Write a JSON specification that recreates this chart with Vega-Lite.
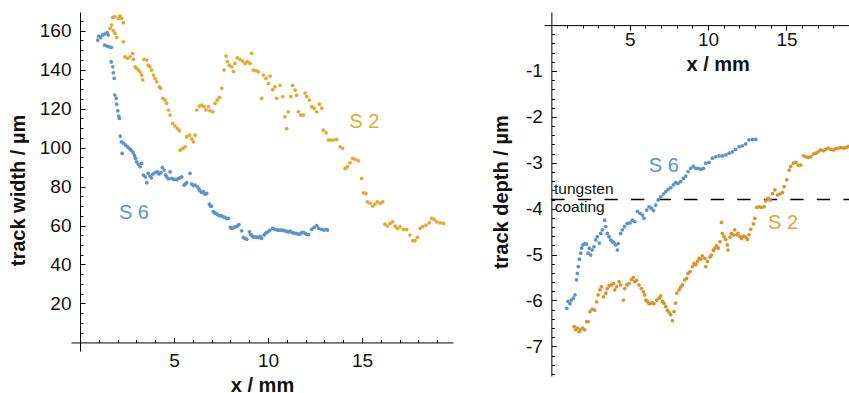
{
  "$schema": "https://vega.github.io/schema/vega-lite/v6.json",
  "padding": {"left": 8, "top": 12, "right": 0, "bottom": 0},
  "background": "white",
  "datasets": {
    "width": [
      {"s":"S 6","x":0.94,"y":155.2},{"s":"S 6","x":1.0,"y":157.2},{"s":"S 6","x":1.1,"y":156.5},{"s":"S 6","x":1.2,"y":157.8},{"s":"S 6","x":1.31,"y":158.3},{"s":"S 6","x":1.44,"y":159.0},{"s":"S 6","x":1.5,"y":157.8},{"s":"S 6","x":1.31,"y":152.6},{"s":"S 6","x":1.44,"y":152.1},{"s":"S 6","x":1.56,"y":151.7},{"s":"S 6","x":1.66,"y":151.4},{"s":"S 6","x":1.66,"y":144.0},{"s":"S 6","x":1.74,"y":141.5},{"s":"S 6","x":1.77,"y":138.4},{"s":"S 6","x":1.82,"y":135.5},{"s":"S 6","x":1.85,"y":127.0},{"s":"S 6","x":1.93,"y":125.3},{"s":"S 6","x":1.95,"y":122.3},{"s":"S 6","x":2.01,"y":118.9},{"s":"S 6","x":2.06,"y":116.2},{"s":"S 6","x":2.09,"y":115.0},{"s":"S 6","x":2.14,"y":105.9},{"s":"S 6","x":2.2,"y":103.0},{"s":"S 6","x":2.24,"y":97.0},{"s":"S 6","x":2.32,"y":102.2},{"s":"S 6","x":2.42,"y":101.3},{"s":"S 6","x":2.52,"y":100.4},{"s":"S 6","x":2.62,"y":99.6},{"s":"S 6","x":2.72,"y":98.7},{"s":"S 6","x":2.82,"y":97.5},{"s":"S 6","x":2.9,"y":96.0},{"s":"S 6","x":2.95,"y":94.5},{"s":"S 6","x":3.01,"y":92.7},{"s":"S 6","x":3.1,"y":91.5},{"s":"S 6","x":3.19,"y":90.2},{"s":"S 6","x":3.28,"y":91.9},{"s":"S 6","x":3.37,"y":85.9},{"s":"S 6","x":3.47,"y":85.0},{"s":"S 6","x":3.55,"y":82.0},{"s":"S 6","x":3.63,"y":86.8},{"s":"S 6","x":3.72,"y":85.4},{"s":"S 6","x":3.8,"y":84.5},{"s":"S 6","x":3.87,"y":86.4},{"s":"S 6","x":3.99,"y":87.1},{"s":"S 6","x":4.11,"y":87.6},{"s":"S 6","x":4.2,"y":86.5},{"s":"S 6","x":4.3,"y":87.1},{"s":"S 6","x":4.38,"y":89.8},{"s":"S 6","x":4.47,"y":88.5},{"s":"S 6","x":4.55,"y":86.0},{"s":"S 6","x":4.61,"y":85.0},{"s":"S 6","x":4.7,"y":84.0},{"s":"S 6","x":4.79,"y":87.6},{"s":"S 6","x":4.88,"y":84.2},{"s":"S 6","x":4.97,"y":83.7},{"s":"S 6","x":5.05,"y":83.7},{"s":"S 6","x":5.14,"y":83.5},{"s":"S 6","x":5.23,"y":84.2},{"s":"S 6","x":5.32,"y":84.5},{"s":"S 6","x":5.41,"y":85.0},{"s":"S 6","x":5.53,"y":80.8},{"s":"S 6","x":5.6,"y":81.2},{"s":"S 6","x":5.67,"y":82.0},{"s":"S 6","x":5.85,"y":86.8},{"s":"S 6","x":5.94,"y":81.3},{"s":"S 6","x":6.03,"y":80.5},{"s":"S 6","x":6.12,"y":80.8},{"s":"S 6","x":6.24,"y":79.9},{"s":"S 6","x":6.32,"y":78.8},{"s":"S 6","x":6.38,"y":77.9},{"s":"S 6","x":6.47,"y":77.0},{"s":"S 6","x":6.56,"y":77.4},{"s":"S 6","x":6.65,"y":76.0},{"s":"S 6","x":6.74,"y":76.5},{"s":"S 6","x":6.88,"y":71.0},{"s":"S 6","x":6.94,"y":70.0},{"s":"S 6","x":7.0,"y":70.0},{"s":"S 6","x":7.09,"y":67.1},{"s":"S 6","x":7.16,"y":66.5},{"s":"S 6","x":7.23,"y":66.2},{"s":"S 6","x":7.3,"y":65.8},{"s":"S 6","x":7.36,"y":65.4},{"s":"S 6","x":7.45,"y":65.0},{"s":"S 6","x":7.54,"y":64.9},{"s":"S 6","x":7.62,"y":64.5},{"s":"S 6","x":7.71,"y":64.2},{"s":"S 6","x":7.8,"y":63.6},{"s":"S 6","x":7.89,"y":63.7},{"s":"S 6","x":8.0,"y":59.0},{"s":"S 6","x":8.07,"y":58.5},{"s":"S 6","x":8.19,"y":59.0},{"s":"S 6","x":8.28,"y":59.5},{"s":"S 6","x":8.37,"y":59.7},{"s":"S 6","x":8.45,"y":60.5},{"s":"S 6","x":8.6,"y":57.3},{"s":"S 6","x":8.69,"y":53.9},{"s":"S 6","x":8.78,"y":53.4},{"s":"S 6","x":8.87,"y":52.9},{"s":"S 6","x":9.01,"y":56.8},{"s":"S 6","x":9.08,"y":55.5},{"s":"S 6","x":9.13,"y":54.9},{"s":"S 6","x":9.22,"y":54.0},{"s":"S 6","x":9.31,"y":54.2},{"s":"S 6","x":9.4,"y":54.0},{"s":"S 6","x":9.49,"y":53.9},{"s":"S 6","x":9.58,"y":54.5},{"s":"S 6","x":9.66,"y":53.4},{"s":"S 6","x":9.79,"y":55.1},{"s":"S 6","x":9.86,"y":56.0},{"s":"S 6","x":9.93,"y":56.3},{"s":"S 6","x":10.02,"y":57.0},{"s":"S 6","x":10.11,"y":57.7},{"s":"S 6","x":10.25,"y":58.7},{"s":"S 6","x":10.37,"y":58.0},{"s":"S 6","x":10.46,"y":57.8},{"s":"S 6","x":10.55,"y":57.7},{"s":"S 6","x":10.64,"y":57.6},{"s":"S 6","x":10.73,"y":57.7},{"s":"S 6","x":10.82,"y":57.5},{"s":"S 6","x":10.9,"y":57.3},{"s":"S 6","x":11.0,"y":57.0},{"s":"S 6","x":11.08,"y":56.8},{"s":"S 6","x":11.17,"y":57.1},{"s":"S 6","x":11.26,"y":56.5},{"s":"S 6","x":11.35,"y":56.2},{"s":"S 6","x":11.44,"y":56.0},{"s":"S 6","x":11.52,"y":55.8},{"s":"S 6","x":11.61,"y":55.6},{"s":"S 6","x":11.7,"y":55.6},{"s":"S 6","x":11.79,"y":56.3},{"s":"S 6","x":11.88,"y":56.5},{"s":"S 6","x":11.97,"y":56.0},{"s":"S 6","x":12.06,"y":55.5},{"s":"S 6","x":12.15,"y":55.3},{"s":"S 6","x":12.32,"y":58.0},{"s":"S 6","x":12.45,"y":59.0},{"s":"S 6","x":12.59,"y":60.0},{"s":"S 6","x":12.7,"y":58.5},{"s":"S 6","x":12.86,"y":58.0},{"s":"S 6","x":12.98,"y":57.7},{"s":"S 6","x":13.09,"y":58.0},{"s":"S 6","x":13.16,"y":57.7},
      {"s":"S 2","x":1.6,"y":161.2},{"s":"S 2","x":1.68,"y":162.9},{"s":"S 2","x":1.74,"y":166.8},{"s":"S 2","x":1.86,"y":167.2},{"s":"S 2","x":2.04,"y":166.3},{"s":"S 2","x":2.13,"y":167.5},{"s":"S 2","x":2.22,"y":166.3},{"s":"S 2","x":2.3,"y":164.1},{"s":"S 2","x":1.77,"y":160.0},{"s":"S 2","x":1.86,"y":158.6},{"s":"S 2","x":1.95,"y":156.6},{"s":"S 2","x":2.3,"y":154.3},{"s":"S 2","x":2.39,"y":146.6},{"s":"S 2","x":2.52,"y":145.8},{"s":"S 2","x":2.66,"y":146.6},{"s":"S 2","x":2.8,"y":148.4},{"s":"S 2","x":2.84,"y":145.3},{"s":"S 2","x":2.93,"y":141.5},{"s":"S 2","x":3.01,"y":140.7},{"s":"S 2","x":3.1,"y":139.8},{"s":"S 2","x":3.19,"y":138.9},{"s":"S 2","x":3.28,"y":137.2},{"s":"S 2","x":3.33,"y":134.7},{"s":"S 2","x":3.4,"y":145.3},{"s":"S 2","x":3.55,"y":144.9},{"s":"S 2","x":3.63,"y":142.3},{"s":"S 2","x":3.72,"y":141.5},{"s":"S 2","x":3.81,"y":139.8},{"s":"S 2","x":3.9,"y":137.2},{"s":"S 2","x":3.99,"y":135.5},{"s":"S 2","x":4.08,"y":133.8},{"s":"S 2","x":4.22,"y":131.2},{"s":"S 2","x":4.29,"y":130.4},{"s":"S 2","x":4.4,"y":125.3},{"s":"S 2","x":4.52,"y":124.4},{"s":"S 2","x":4.61,"y":122.7},{"s":"S 2","x":4.7,"y":119.3},{"s":"S 2","x":4.79,"y":116.7},{"s":"S 2","x":4.93,"y":112.4},{"s":"S 2","x":5.05,"y":111.1},{"s":"S 2","x":5.18,"y":109.9},{"s":"S 2","x":5.28,"y":108.7},{"s":"S 2","x":5.32,"y":98.7},{"s":"S 2","x":5.46,"y":99.6},{"s":"S 2","x":5.59,"y":100.4},{"s":"S 2","x":5.67,"y":105.6},{"s":"S 2","x":5.82,"y":106.4},{"s":"S 2","x":5.94,"y":104.5},{"s":"S 2","x":6.03,"y":103.0},{"s":"S 2","x":6.12,"y":106.4},{"s":"S 2","x":6.21,"y":119.3},{"s":"S 2","x":6.35,"y":121.3},{"s":"S 2","x":6.47,"y":121.8},{"s":"S 2","x":6.6,"y":121.0},{"s":"S 2","x":6.7,"y":119.3},{"s":"S 2","x":6.83,"y":121.0},{"s":"S 2","x":6.91,"y":118.9},{"s":"S 2","x":7.06,"y":118.4},{"s":"S 2","x":7.18,"y":122.7},{"s":"S 2","x":7.3,"y":124.4},{"s":"S 2","x":7.41,"y":125.8},{"s":"S 2","x":7.54,"y":130.4},{"s":"S 2","x":7.66,"y":139.8},{"s":"S 2","x":7.77,"y":147.0},{"s":"S 2","x":7.84,"y":144.1},{"s":"S 2","x":7.94,"y":142.3},{"s":"S 2","x":8.07,"y":141.5},{"s":"S 2","x":8.16,"y":139.0},{"s":"S 2","x":8.24,"y":143.2},{"s":"S 2","x":8.37,"y":146.1},{"s":"S 2","x":8.51,"y":145.3},{"s":"S 2","x":8.65,"y":144.4},{"s":"S 2","x":8.78,"y":143.2},{"s":"S 2","x":8.9,"y":144.1},{"s":"S 2","x":9.04,"y":143.2},{"s":"S 2","x":9.13,"y":148.4},{"s":"S 2","x":9.22,"y":139.8},{"s":"S 2","x":9.36,"y":139.5},{"s":"S 2","x":9.49,"y":138.9},{"s":"S 2","x":9.66,"y":125.3},{"s":"S 2","x":9.75,"y":137.2},{"s":"S 2","x":9.89,"y":135.5},{"s":"S 2","x":10.02,"y":132.9},{"s":"S 2","x":10.11,"y":136.7},{"s":"S 2","x":10.25,"y":129.8},{"s":"S 2","x":10.37,"y":131.2},{"s":"S 2","x":10.46,"y":125.3},{"s":"S 2","x":10.64,"y":132.0},{"s":"S 2","x":10.78,"y":126.2},{"s":"S 2","x":10.9,"y":115.8},{"s":"S 2","x":10.99,"y":109.8},{"s":"S 2","x":11.08,"y":118.4},{"s":"S 2","x":11.21,"y":126.2},{"s":"S 2","x":11.31,"y":132.0},{"s":"S 2","x":11.44,"y":129.5},{"s":"S 2","x":11.52,"y":126.9},{"s":"S 2","x":11.61,"y":118.4},{"s":"S 2","x":11.74,"y":116.7},{"s":"S 2","x":11.88,"y":116.7},{"s":"S 2","x":11.97,"y":128.0},{"s":"S 2","x":12.06,"y":126.2},{"s":"S 2","x":12.2,"y":124.4},{"s":"S 2","x":12.32,"y":121.0},{"s":"S 2","x":12.45,"y":120.2},{"s":"S 2","x":12.59,"y":118.4},{"s":"S 2","x":12.73,"y":122.3},{"s":"S 2","x":12.86,"y":120.2},{"s":"S 2","x":12.94,"y":109.0},{"s":"S 2","x":13.09,"y":107.6},{"s":"S 2","x":13.21,"y":103.9},{"s":"S 2","x":13.33,"y":103.9},{"s":"S 2","x":13.48,"y":103.9},{"s":"S 2","x":13.65,"y":104.2},{"s":"S 2","x":13.83,"y":100.4},{"s":"S 2","x":13.97,"y":99.6},{"s":"S 2","x":14.1,"y":89.3},{"s":"S 2","x":14.22,"y":90.2},{"s":"S 2","x":14.36,"y":92.2},{"s":"S 2","x":14.5,"y":94.5},{"s":"S 2","x":14.63,"y":94.0},{"s":"S 2","x":14.8,"y":93.2},{"s":"S 2","x":14.98,"y":84.2},{"s":"S 2","x":15.07,"y":76.8},{"s":"S 2","x":15.21,"y":76.5},{"s":"S 2","x":15.28,"y":72.2},{"s":"S 2","x":15.43,"y":71.4},{"s":"S 2","x":15.57,"y":70.0},{"s":"S 2","x":15.69,"y":71.0},{"s":"S 2","x":15.82,"y":72.2},{"s":"S 2","x":15.96,"y":71.4},{"s":"S 2","x":16.1,"y":72.2},{"s":"S 2","x":16.22,"y":60.7},{"s":"S 2","x":16.35,"y":59.7},{"s":"S 2","x":16.49,"y":61.1},{"s":"S 2","x":16.63,"y":61.9},{"s":"S 2","x":16.76,"y":59.7},{"s":"S 2","x":16.88,"y":58.5},{"s":"S 2","x":17.02,"y":59.4},{"s":"S 2","x":17.2,"y":58.0},{"s":"S 2","x":17.38,"y":58.0},{"s":"S 2","x":17.55,"y":55.1},{"s":"S 2","x":17.7,"y":52.2},{"s":"S 2","x":17.82,"y":52.2},{"s":"S 2","x":17.94,"y":53.9},{"s":"S 2","x":18.09,"y":58.5},{"s":"S 2","x":18.23,"y":59.4},{"s":"S 2","x":18.4,"y":60.2},{"s":"S 2","x":18.58,"y":61.4},{"s":"S 2","x":18.71,"y":63.7},{"s":"S 2","x":18.83,"y":63.1},{"s":"S 2","x":18.97,"y":61.9},{"s":"S 2","x":19.15,"y":61.4},{"s":"S 2","x":19.33,"y":61.1}
    ],
    "depth": [
      {"s":"S 6","x":0.98,"y":-6.17},{"s":"S 6","x":1.06,"y":-6.02},{"s":"S 6","x":1.19,"y":-6.07},{"s":"S 6","x":1.28,"y":-5.99},{"s":"S 6","x":1.4,"y":-5.95},{"s":"S 6","x":1.51,"y":-5.88},{"s":"S 6","x":1.6,"y":-5.55},{"s":"S 6","x":1.66,"y":-5.41},{"s":"S 6","x":1.72,"y":-5.26},{"s":"S 6","x":1.79,"y":-5.1},{"s":"S 6","x":1.87,"y":-4.97},{"s":"S 6","x":1.93,"y":-4.86},{"s":"S 6","x":2.02,"y":-4.79},{"s":"S 6","x":2.13,"y":-4.76},{"s":"S 6","x":2.25,"y":-4.77},{"s":"S 6","x":2.34,"y":-4.97},{"s":"S 6","x":2.42,"y":-4.86},{"s":"S 6","x":2.51,"y":-5.01},{"s":"S 6","x":2.61,"y":-4.9},{"s":"S 6","x":2.72,"y":-4.83},{"s":"S 6","x":2.83,"y":-4.68},{"s":"S 6","x":2.93,"y":-4.61},{"s":"S 6","x":3.06,"y":-4.75},{"s":"S 6","x":3.15,"y":-4.54},{"s":"S 6","x":3.25,"y":-4.46},{"s":"S 6","x":3.4,"y":-4.25},{"s":"S 6","x":3.47,"y":-4.39},{"s":"S 6","x":3.57,"y":-4.54},{"s":"S 6","x":3.68,"y":-4.61},{"s":"S 6","x":3.79,"y":-4.68},{"s":"S 6","x":3.89,"y":-4.72},{"s":"S 6","x":4.0,"y":-4.74},{"s":"S 6","x":4.1,"y":-4.79},{"s":"S 6","x":4.21,"y":-4.9},{"s":"S 6","x":4.27,"y":-4.76},{"s":"S 6","x":4.42,"y":-4.54},{"s":"S 6","x":4.53,"y":-4.46},{"s":"S 6","x":4.67,"y":-4.39},{"s":"S 6","x":4.84,"y":-4.32},{"s":"S 6","x":5.02,"y":-4.31},{"s":"S 6","x":5.17,"y":-4.25},{"s":"S 6","x":5.32,"y":-4.28},{"s":"S 6","x":5.49,"y":-4.06},{"s":"S 6","x":5.66,"y":-4.1},{"s":"S 6","x":5.81,"y":-4.14},{"s":"S 6","x":5.91,"y":-4.21},{"s":"S 6","x":6.08,"y":-4.03},{"s":"S 6","x":6.23,"y":-3.96},{"s":"S 6","x":6.38,"y":-3.99},{"s":"S 6","x":6.51,"y":-4.04},{"s":"S 6","x":6.66,"y":-3.92},{"s":"S 6","x":6.81,"y":-3.81},{"s":"S 6","x":6.98,"y":-3.74},{"s":"S 6","x":7.15,"y":-3.68},{"s":"S 6","x":7.3,"y":-3.63},{"s":"S 6","x":7.45,"y":-3.58},{"s":"S 6","x":7.62,"y":-3.54},{"s":"S 6","x":7.79,"y":-3.48},{"s":"S 6","x":7.93,"y":-3.43},{"s":"S 6","x":8.08,"y":-3.45},{"s":"S 6","x":8.25,"y":-3.41},{"s":"S 6","x":8.42,"y":-3.34},{"s":"S 6","x":8.57,"y":-3.29},{"s":"S 6","x":8.72,"y":-3.19},{"s":"S 6","x":8.89,"y":-3.12},{"s":"S 6","x":9.06,"y":-3.08},{"s":"S 6","x":9.21,"y":-3.12},{"s":"S 6","x":9.36,"y":-3.12},{"s":"S 6","x":9.53,"y":-3.14},{"s":"S 6","x":9.7,"y":-3.12},{"s":"S 6","x":9.85,"y":-3.01},{"s":"S 6","x":10.06,"y":-2.99},{"s":"S 6","x":10.27,"y":-2.9},{"s":"S 6","x":10.48,"y":-2.87},{"s":"S 6","x":10.7,"y":-2.85},{"s":"S 6","x":10.91,"y":-2.85},{"s":"S 6","x":11.13,"y":-2.83},{"s":"S 6","x":11.34,"y":-2.79},{"s":"S 6","x":11.55,"y":-2.76},{"s":"S 6","x":11.76,"y":-2.71},{"s":"S 6","x":11.98,"y":-2.65},{"s":"S 6","x":12.19,"y":-2.63},{"s":"S 6","x":12.4,"y":-2.59},{"s":"S 6","x":12.61,"y":-2.5},{"s":"S 6","x":12.83,"y":-2.49},{"s":"S 6","x":13.04,"y":-2.49},
      {"s":"S 2","x":1.45,"y":-6.57},{"s":"S 2","x":1.55,"y":-6.64},{"s":"S 2","x":1.66,"y":-6.6},{"s":"S 2","x":1.77,"y":-6.68},{"s":"S 2","x":1.87,"y":-6.64},{"s":"S 2","x":1.98,"y":-6.6},{"s":"S 2","x":2.13,"y":-6.64},{"s":"S 2","x":2.25,"y":-6.46},{"s":"S 2","x":2.34,"y":-6.46},{"s":"S 2","x":2.46,"y":-6.24},{"s":"S 2","x":2.61,"y":-6.19},{"s":"S 2","x":2.76,"y":-6.21},{"s":"S 2","x":2.89,"y":-6.03},{"s":"S 2","x":2.98,"y":-5.88},{"s":"S 2","x":3.1,"y":-5.77},{"s":"S 2","x":3.19,"y":-5.7},{"s":"S 2","x":3.32,"y":-5.92},{"s":"S 2","x":3.47,"y":-5.84},{"s":"S 2","x":3.57,"y":-5.74},{"s":"S 2","x":3.68,"y":-5.68},{"s":"S 2","x":3.83,"y":-5.66},{"s":"S 2","x":3.96,"y":-5.63},{"s":"S 2","x":4.04,"y":-5.77},{"s":"S 2","x":4.17,"y":-5.7},{"s":"S 2","x":4.32,"y":-5.59},{"s":"S 2","x":4.42,"y":-5.66},{"s":"S 2","x":4.59,"y":-5.99},{"s":"S 2","x":4.68,"y":-5.74},{"s":"S 2","x":4.81,"y":-5.66},{"s":"S 2","x":4.96,"y":-5.63},{"s":"S 2","x":5.11,"y":-5.54},{"s":"S 2","x":5.23,"y":-5.5},{"s":"S 2","x":5.32,"y":-5.59},{"s":"S 2","x":5.44,"y":-5.56},{"s":"S 2","x":5.59,"y":-5.66},{"s":"S 2","x":5.74,"y":-5.74},{"s":"S 2","x":5.87,"y":-5.81},{"s":"S 2","x":5.96,"y":-5.88},{"s":"S 2","x":6.02,"y":-5.99},{"s":"S 2","x":6.13,"y":-6.02},{"s":"S 2","x":6.23,"y":-6.07},{"s":"S 2","x":6.34,"y":-6.06},{"s":"S 2","x":6.44,"y":-6.05},{"s":"S 2","x":6.55,"y":-6.07},{"s":"S 2","x":6.72,"y":-5.99},{"s":"S 2","x":6.87,"y":-5.95},{"s":"S 2","x":6.98,"y":-5.9},{"s":"S 2","x":7.08,"y":-6.02},{"s":"S 2","x":7.19,"y":-6.06},{"s":"S 2","x":7.3,"y":-6.13},{"s":"S 2","x":7.4,"y":-6.21},{"s":"S 2","x":7.51,"y":-6.26},{"s":"S 2","x":7.61,"y":-6.31},{"s":"S 2","x":7.72,"y":-6.44},{"s":"S 2","x":7.83,"y":-6.24},{"s":"S 2","x":7.93,"y":-6.06},{"s":"S 2","x":8.0,"y":-5.84},{"s":"S 2","x":8.15,"y":-5.77},{"s":"S 2","x":8.25,"y":-5.71},{"s":"S 2","x":8.36,"y":-5.66},{"s":"S 2","x":8.51,"y":-5.55},{"s":"S 2","x":8.63,"y":-5.52},{"s":"S 2","x":8.72,"y":-5.41},{"s":"S 2","x":8.85,"y":-5.37},{"s":"S 2","x":9.0,"y":-5.26},{"s":"S 2","x":9.1,"y":-5.19},{"s":"S 2","x":9.21,"y":-5.22},{"s":"S 2","x":9.32,"y":-5.15},{"s":"S 2","x":9.42,"y":-5.08},{"s":"S 2","x":9.53,"y":-5.1},{"s":"S 2","x":9.63,"y":-5.03},{"s":"S 2","x":9.78,"y":-5.08},{"s":"S 2","x":9.85,"y":-5.26},{"s":"S 2","x":9.95,"y":-5.15},{"s":"S 2","x":10.12,"y":-5.05},{"s":"S 2","x":10.21,"y":-5.01},{"s":"S 2","x":10.34,"y":-4.91},{"s":"S 2","x":10.42,"y":-4.86},{"s":"S 2","x":10.55,"y":-4.81},{"s":"S 2","x":10.64,"y":-4.86},{"s":"S 2","x":10.76,"y":-4.72},{"s":"S 2","x":10.85,"y":-4.3},{"s":"S 2","x":10.91,"y":-4.54},{"s":"S 2","x":11.02,"y":-4.61},{"s":"S 2","x":11.12,"y":-4.67},{"s":"S 2","x":11.23,"y":-4.79},{"s":"S 2","x":11.27,"y":-4.9},{"s":"S 2","x":11.4,"y":-4.62},{"s":"S 2","x":11.48,"y":-4.54},{"s":"S 2","x":11.61,"y":-4.57},{"s":"S 2","x":11.7,"y":-4.46},{"s":"S 2","x":11.83,"y":-4.57},{"s":"S 2","x":11.91,"y":-4.54},{"s":"S 2","x":12.04,"y":-4.61},{"s":"S 2","x":12.13,"y":-4.65},{"s":"S 2","x":12.25,"y":-4.6},{"s":"S 2","x":12.4,"y":-4.62},{"s":"S 2","x":12.51,"y":-4.67},{"s":"S 2","x":12.61,"y":-4.57},{"s":"S 2","x":12.72,"y":-4.45},{"s":"S 2","x":12.89,"y":-4.33},{"s":"S 2","x":12.98,"y":-4.21},{"s":"S 2","x":13.1,"y":-3.97},{"s":"S 2","x":13.25,"y":-3.96},{"s":"S 2","x":13.4,"y":-3.97},{"s":"S 2","x":13.57,"y":-3.96},{"s":"S 2","x":13.68,"y":-3.83},{"s":"S 2","x":13.83,"y":-3.77},{"s":"S 2","x":13.96,"y":-3.81},{"s":"S 2","x":14.11,"y":-3.67},{"s":"S 2","x":14.26,"y":-3.59},{"s":"S 2","x":14.43,"y":-3.7},{"s":"S 2","x":14.59,"y":-3.68},{"s":"S 2","x":14.74,"y":-3.65},{"s":"S 2","x":14.85,"y":-3.52},{"s":"S 2","x":15.02,"y":-3.37},{"s":"S 2","x":15.17,"y":-3.16},{"s":"S 2","x":15.27,"y":-3.08},{"s":"S 2","x":15.44,"y":-3.01},{"s":"S 2","x":15.59,"y":-2.99},{"s":"S 2","x":15.74,"y":-3.05},{"s":"S 2","x":15.91,"y":-3.05},{"s":"S 2","x":16.08,"y":-2.85},{"s":"S 2","x":16.23,"y":-2.87},{"s":"S 2","x":16.38,"y":-2.88},{"s":"S 2","x":16.55,"y":-2.87},{"s":"S 2","x":16.72,"y":-2.81},{"s":"S 2","x":16.87,"y":-2.79},{"s":"S 2","x":17.02,"y":-2.76},{"s":"S 2","x":17.19,"y":-2.72},{"s":"S 2","x":17.36,"y":-2.74},{"s":"S 2","x":17.51,"y":-2.71},{"s":"S 2","x":17.66,"y":-2.68},{"s":"S 2","x":17.83,"y":-2.71},{"s":"S 2","x":18.0,"y":-2.72},{"s":"S 2","x":18.15,"y":-2.69},{"s":"S 2","x":18.3,"y":-2.68},{"s":"S 2","x":18.47,"y":-2.67},{"s":"S 2","x":18.64,"y":-2.68},{"s":"S 2","x":18.79,"y":-2.67},{"s":"S 2","x":18.94,"y":-2.65},{"s":"S 2","x":19.07,"y":-2.63}
    ]
  },
  "hconcat": [
    {
      "width": 382,
      "height": 339,
      "resolve": {"axis": {"x": "independent", "y": "independent"}},
      "layer": [
        {
          "data": {"name": "width"},
          "mark": {"type": "circle", "size": 14, "opacity": 0},
          "encoding": {
            "x": {"field": "x", "type": "quantitative",
              "scale": {"domain": [-0.48, 19.84], "nice": false, "zero": false},
              "axis": {"title": null, "orient": "bottom", "offset": -8.57, "labels": false, "domain": false,
                "values": [1,2,3,4,6,7,8,9,11,12,13,14,16,17,18,19], "tickSize": -3}},
            "y": {"field": "y", "type": "quantitative",
              "scale": {"domain": [-4.4, 169.6], "nice": false, "zero": false},
              "axis": {"title": null, "orient": "left", "offset": -9.0, "labels": false, "domain": false,
                "values": [5,10,15,25,30,35,45,50,55,65,70,75,85,90,95,105,110,115,125,130,135,145,150,155,165], "tickSize": -3}}
          }
        },
        {
          "data": {"name": "width"},
          "mark": {"type": "circle", "size": 14, "opacity": 1},
          "encoding": {
            "x": {"field": "x", "type": "quantitative",
              "scale": {"domain": [-0.48, 19.84], "nice": false, "zero": false},
              "axis": {"title": "x / mm", "orient": "bottom", "offset": -8.57,
                "values": [5, 10, 15], "tickSize": -5, "labelPadding": 14, "titlePadding": 5}},
            "y": {"field": "y", "type": "quantitative",
              "scale": {"domain": [-4.4, 169.6], "nice": false, "zero": false},
              "axis": {"title": "track width / µm", "orient": "left", "offset": -9.0,
                "values": [20, 40, 60, 80, 100, 120, 140, 160], "tickSize": -5,
                "labelPadding": 14, "titlePadding": 11, "titleY": 178}},
            "color": {"field": "s", "type": "nominal",
              "scale": {"domain": ["S 2", "S 6"], "range": ["#E5A92F", "#5B93CF"]}, "legend": null}
          }
        },
        {
          "data": {"values": [{}]},
          "mark": {"type": "text", "fontSize": 20, "color": "#E5A92F", "align": "center", "baseline": "middle"},
          "encoding": {"x": {"datum": 15.12, "axis": null}, "y": {"datum": 113.0, "axis": null}, "text": {"value": "S 2"}}
        },
        {
          "data": {"values": [{}]},
          "mark": {"type": "text", "fontSize": 20, "color": "#5B93CF", "align": "center", "baseline": "middle"},
          "encoding": {"x": {"datum": 2.87, "axis": null}, "y": {"datum": 66.6, "axis": null}, "text": {"value": "S 6"}}
        }
      ]
    },
    {
      "width": 313,
      "height": 364,
      "resolve": {"axis": {"x": "independent", "y": "independent"}},
      "layer": [
        {
          "data": {"values": [{}]},
          "mark": {"type": "rule", "color": "#000", "strokeWidth": 1.3, "strokeDash": [13.3, 13.25]},
          "encoding": {"x": {"datum": 0, "axis": null}, "x2": {"datum": 19.5}, "y": {"datum": -3.8, "axis": null}}
        },
        {
          "data": {"name": "depth"},
          "mark": {"type": "circle", "size": 14, "opacity": 0},
          "encoding": {
            "x": {"field": "x", "type": "quantitative",
              "scale": {"domain": [-0.47, 19.5], "nice": false, "zero": false},
              "axis": {"title": null, "orient": "bottom", "offset": -350.9, "labels": false, "domain": false,
                "values": [1,2,3,4,6,7,8,9,11,12,13,14,16,17,18,19], "tickSize": 3}},
            "y": {"field": "y", "type": "quantitative",
              "scale": {"domain": [-7.645, 0.285], "nice": false, "zero": false},
              "axis": {"title": null, "orient": "left", "offset": -7.36, "labels": false, "domain": false,
                "values": [-0.2,-0.4,-0.6,-0.8,-1.2,-1.4,-1.6,-1.8,-2.2,-2.4,-2.6,-2.8,-3.2,-3.4,-3.6,-3.8,-4.2,-4.4,-4.6,-4.8,-5.2,-5.4,-5.6,-5.8,-6.2,-6.4,-6.6,-6.8,-7.2,-7.4,-7.6], "tickSize": -3}}
          }
        },
        {
          "data": {"name": "depth"},
          "mark": {"type": "circle", "size": 14, "opacity": 1},
          "encoding": {
            "x": {"field": "x", "type": "quantitative",
              "scale": {"domain": [-0.47, 19.5], "nice": false, "zero": false},
              "axis": {"title": "x / mm", "orient": "bottom", "offset": -350.9,
                "values": [5, 10, 15], "tickSize": 5,
                "labelPadding": 0, "titlePadding": 5, "titleX": 173.7}},
            "y": {"field": "y", "type": "quantitative",
              "scale": {"domain": [-7.645, 0.285], "nice": false, "zero": false},
              "axis": {"title": "track depth / µm", "orient": "left", "offset": -7.36,
                "values": [-1, -2, -3, -4, -5, -6, -7], "tickSize": -5,
                "labelExpr": "'-' + abs(datum.value)",
                "labelPadding": 14, "titlePadding": 14, "titleY": 179.7}},
            "color": {"field": "s", "type": "nominal",
              "scale": {"domain": ["S 2", "S 6"], "range": ["#D8962A", "#5B93CF"]}, "legend": null}
          }
        },
        {
          "data": {"values": [{}]},
          "mark": {"type": "text", "fontSize": 20, "color": "#E2A63A", "align": "center", "baseline": "middle"},
          "encoding": {"x": {"datum": 14.78, "axis": null}, "y": {"datum": -4.31, "axis": null}, "text": {"value": "S 2"}}
        },
        {
          "data": {"values": [{}]},
          "mark": {"type": "text", "fontSize": 20, "color": "#5B93CF", "align": "center", "baseline": "middle"},
          "encoding": {"x": {"datum": 7.17, "axis": null}, "y": {"datum": -3.08, "axis": null}, "text": {"value": "S 6"}}
        },
        {
          "data": {"values": [{}]},
          "mark": {"type": "text", "fontSize": 15.5, "color": "#111", "align": "left", "baseline": "alphabetic"},
          "encoding": {"x": {"datum": 0.17, "axis": null}, "y": {"datum": -3.686, "axis": null}, "text": {"value": "tungsten"}}
        },
        {
          "data": {"values": [{}]},
          "mark": {"type": "text", "fontSize": 15.5, "color": "#111", "align": "left", "baseline": "alphabetic"},
          "encoding": {"x": {"datum": 0.21, "axis": null}, "y": {"datum": -4.08, "axis": null}, "text": {"value": "coating"}}
        }
      ]
    }
  ],
  "spacing": 38,
  "resolve": {"scale": {"color": "independent"}},
  "config": {
    "view": {"stroke": null},
    "font": "Liberation Sans",
    "axis": {
      "grid": false, "domainColor": "#000", "tickColor": "#000", "domainWidth": 1, "tickWidth": 1,
      "labelColor": "#111", "titleColor": "#111", "labelFont": "Liberation Sans", "titleFont": "Liberation Sans",
      "labelFontSize": 19, "titleFontSize": 20, "titleFontWeight": "bold",
      "labelFlush": false, "labelOverlap": false, "labelBound": false
    },
    "text": {"font": "Liberation Sans"}
  }
}
